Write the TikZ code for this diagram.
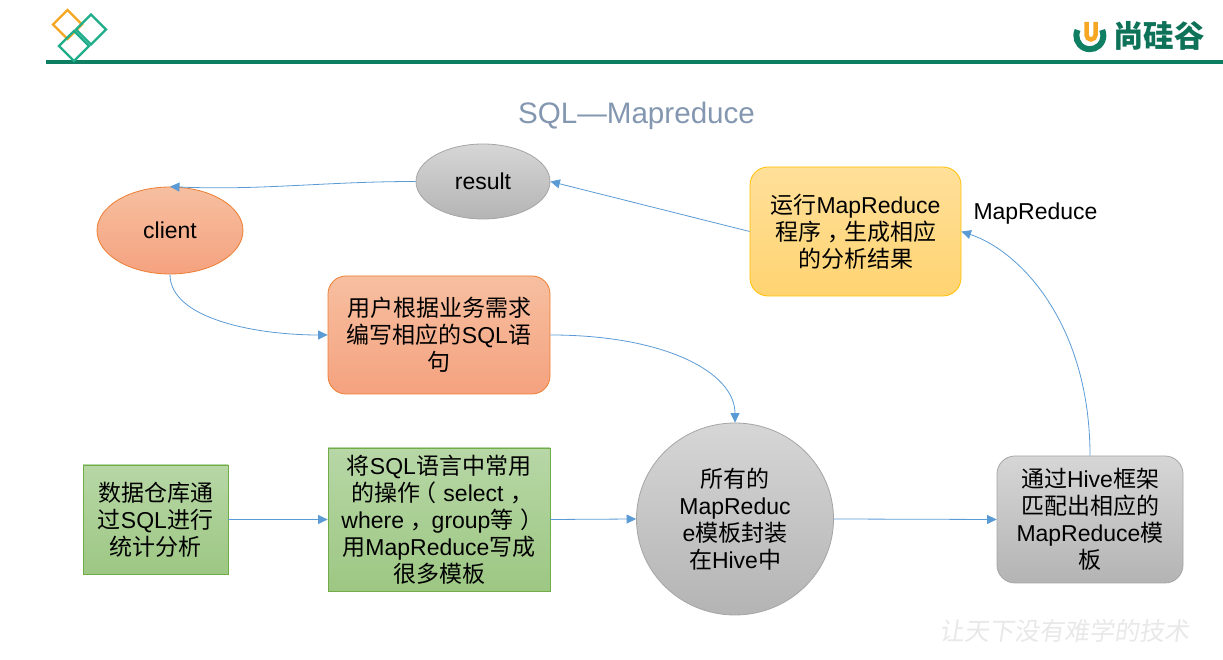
\documentclass[tikz,border=0pt]{standalone}
\usepackage{fontspec}
\setmainfont{Liberation Sans}
\newfontfamily\cjk{Noto Sans CJK SC}
\newcommand\zh[1]{{\cjk #1}}
\newcommand\fcomma{\kern.3em{\cjk ，}\kern-.3em}
\newcommand\fcommb{\kern.28em{\cjk ，}\kern-.08em}
\newcommand\fopen{\kern-.3em{\cjk （}\kern.3em}
\newcommand\fclose{\kern.3em{\cjk ）}\kern-.3em}
\usetikzlibrary{arrows.meta,shapes.geometric}
\definecolor{linkblue}{HTML}{5B9BD5}
\definecolor{rulegreen}{HTML}{0F7F63}
\definecolor{logoteal}{HTML}{1FAD8A}
\definecolor{logoorange}{HTML}{F5A623}
\tikzset{
  body/.style={font=\fontsize{23}{27}\selectfont, align=center, inner sep=0pt, text=black},
  orangeshape/.style={body, draw=orangeedge, line width=0.8pt, top color=orangetop, bottom color=orangebot},
  greenshape/.style={body, draw=greenedge, line width=0.8pt, top color=greentop, bottom color=greenbot},
  greyshape/.style={body, draw=greyedge, line width=0.8pt, top color=greytop, bottom color=greybot},
  yellowshape/.style={body, draw=yellowedge, line width=0.8pt, top color=yellowtop, bottom color=yellowbot},
  link/.style={draw=linkblue, line width=0.8pt, -{Triangle[length=9.5pt,width=9pt]}},
  logoline/.style={line width=2.4pt, line join=miter},
}
\definecolor{orangeedge}{HTML}{ED7D31}
\definecolor{orangetop}{HTML}{F6BFA0}
\definecolor{orangebot}{HTML}{F5A27F}
\definecolor{greenedge}{HTML}{70AD47}
\definecolor{greentop}{HTML}{B7D7A6}
\definecolor{greenbot}{HTML}{9DC783}
\definecolor{greyedge}{HTML}{A5A5A5}
\definecolor{greytop}{HTML}{D6D6D6}
\definecolor{greybot}{HTML}{B4B4B4}
\definecolor{yellowedge}{HTML}{FFC000}
\definecolor{yellowtop}{HTML}{FFE09A}
\definecolor{yellowbot}{HTML}{FFD371}
\begin{document}
\begin{tikzpicture}[x=1pt,y=1pt]
\useasboundingbox (0,0) rectangle (1223,660);
% header
\fill[rulegreen] (46,596) rectangle (1223,600);
\draw[logoline,draw=logoorange] (53,635.5) -- (67.5,650) -- (82,635.5) -- (67.5,621) -- cycle;
\draw[logoline,draw=logoteal] (76,630.5) -- (91,645.5) -- (106,630.5) -- (91,615.5) -- cycle;
\draw[logoline,draw=logoteal] (59,614) -- (74,629) -- (89,614) -- (74,599) -- cycle;
\draw[line width=6pt,draw=rulegreen] (1077.6,630) arc[start angle=155,end angle=385,radius=13.5];
\draw[line width=4.5pt,draw=logoorange] (1086.5,638) -- (1086.5,625) arc[start angle=180,end angle=360,radius=4.5] -- (1095.5,638);
\node[inner sep=0pt,text=rulegreen!90!black,font=\cjk\bfseries\fontsize{30.5}{32}\selectfont] (brand) at (1159,624) {尚硅谷};
\node[inner sep=0pt,text=black!9,font=\cjk\fontsize{25}{27}\selectfont,xslant=0.15] (motto) at (1066,29) {让天下没有难学的技术};
\node[inner sep=0pt,text={rgb,255:red,132;green,151;blue,176},font=\fontsize{29.6}{32}\selectfont] (title) at (636.5,544) {SQL—Mapreduce};
% nodes
\node[orangeshape,ellipse,minimum width=146pt,minimum height=87pt] (client) at (170,429.5) {client};
\node[greyshape,ellipse,minimum width=134pt,minimum height=75pt] (result) at (483,478.5) {result};
\node[yellowshape,rounded corners=18pt,minimum width=211pt,minimum height=129pt] (run) at (855.5,428.5) {\zh{运行}MapReduce\\\zh{程序}\fcomma\zh{生成相应}\\\zh{的分析结果}};
\node[orangeshape,rounded corners=18pt,minimum width=222pt,minimum height=118pt] (user) at (439,325) {\zh{用户根据业务需求}\\\zh{编写相应的}SQL\zh{语}\\\zh{句}};
\node[greenshape,minimum width=145pt,minimum height=109pt] (data) at (155.5,140.5) {\zh{数据仓库通}\\\zh{过}SQL\zh{进行}\\\zh{统计分析}};
\node[greenshape,minimum width=222pt,minimum height=143pt] (tmpl) at (439,140.5) {\zh{将}SQL\zh{语言中常用}\\\zh{的操作}\fopen select\fcomma\\where\fcommb group\zh{等}\fclose\\\zh{用}MapReduce\zh{写成}\\\zh{很多模板}};
\node[greyshape,ellipse,minimum width=197pt,minimum height=192pt] (all) at (735,141) {\zh{所有的}\\MapReduc\\e\zh{模板封装}\\\zh{在}Hive\zh{中}};
\node[greyshape,rounded corners=18pt,minimum width=186pt,minimum height=127pt] (hive) at (1090,140.5) {\zh{通过}Hive\zh{框架}\\\zh{匹配出相应的}\\MapReduce\zh{模}\\\zh{板}};
\node[body] (mr) at (1035.5,446) {MapReduce};
% connectors
\draw[link] (data.east) -- (tmpl.west);
\draw[link] (tmpl.east) -- (all.west);
\draw[link] (all.east) -- (hive.west);
\draw[link] (client.south) .. controls +(0,-45) and +(-70,0) .. (user.west);
\draw[link] (user.east) .. controls +(115,0) and +(0,50) .. (all.north);
\draw[link] (hive.north) .. controls +(0,130) and +(60,-20) .. (run.east);
\draw[link] (run.west) -- (result.east);
\draw[link] (result.west) .. controls +(-90,0) and +(90,-4) .. (client.north);
\end{tikzpicture}
\end{document}
